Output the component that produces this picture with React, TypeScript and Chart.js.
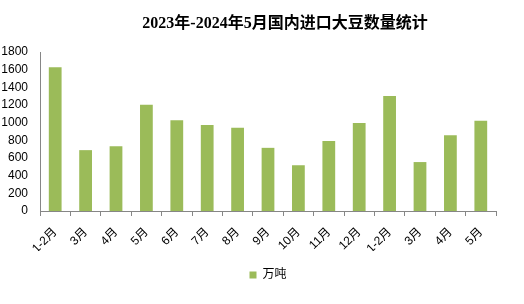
import React, { useEffect, useRef } from "react";
import { Chart, registerables } from "chart.js";

Chart.register(...registerables);

const TITLE = "2023年-2024年5月国内进口大豆数量统计";
const categories = ["1-2月", "3月", "4月", "5月", "6月", "7月", "8月", "9月", "10月", "11月", "12月", "1-2月", "3月", "4月", "5月"];
const seriesName = "万吨";
const values = [1627, 689, 734, 1202, 1027, 973, 943, 715, 518, 793, 995, 1303, 554, 857, 1022];
const yMin = 0;
const yMax = 1800;
const yStep = 200;

const FONT = '"Liberation Sans", Arial, "Noto Sans CJK SC", sans-serif';

const titlePlugin = {
  id: "customTitle",
  afterDraw(chart: any) {
    const ctx = chart.ctx;
    const area = chart.chartArea;
    ctx.save();
    ctx.font = 'bold 16px "Liberation Serif", "Noto Sans CJK SC", serif';
    ctx.fillStyle = "#000";
    ctx.textAlign = "center";
    ctx.textBaseline = "middle";
    ctx.fillText(TITLE, (area.left + area.right) / 2 + 17, 24);
    ctx.restore();
  },
};

export default function App() {
  const ref = useRef<HTMLCanvasElement | null>(null);
  useEffect(() => {
    document.body.style.margin = "0";
    const chart = new Chart(ref.current!, {
      type: "bar",
      data: {
        labels: categories,
        datasets: [
          {
            label: seriesName,
            data: values,
            backgroundColor: "#9BBB59",
            borderWidth: 0,
            barPercentage: 0.42,
            categoryPercentage: 1,
          },
        ],
      },
      options: {
        animation: false,
        responsive: false,
        maintainAspectRatio: false,
        layout: { padding: { top: 52, right: 28, left: 1, bottom: 13 } },
        plugins: {
          title: { display: false },
          tooltip: { enabled: false },
          legend: {
            display: true,
            position: "bottom",
            fullSize: false,
            labels: {
              boxWidth: 7,
              boxHeight: 7,
              color: "#000",
              font: { family: FONT, size: 12 },
              padding: 18,
            },
          },
        },
        scales: {
          x: {
            afterFit: (s: any) => {
              s.paddingLeft = 0;
              s.paddingRight = 0;
              s.height = 40;
            },
            grid: {
              display: true,
              drawOnChartArea: false,
              drawTicks: true,
              tickLength: 5,
              color: "#868686",
              offset: true,
            },
            border: { display: true, color: "#868686" },
            ticks: {
              color: "#000",
              font: { family: FONT, size: 12 },
              minRotation: 45,
              maxRotation: 45,
              autoSkip: false,
              padding: 9,
            },
          },
          y: {
            min: yMin,
            max: yMax,
            afterFit: (s: any) => {
              s.width = 39;
              s.paddingTop = 0;
              s.paddingBottom = 0;
            },
            grid: { display: false, drawTicks: false },
            border: { display: true, color: "#868686" },
            ticks: {
              stepSize: yStep,
              autoSkip: false,
              color: "#000",
              font: { family: FONT, size: 12 },
              padding: 12,
              callback: (v: any) => String(v),
            },
          },
        },
      },
      plugins: [titlePlugin],
    });
    return () => chart.destroy();
  }, []);
  return (
    <div style={{ width: 524, height: 304 }}>
      <canvas ref={ref} width={524} height={304} style={{ display: "block" }} />
    </div>
  );
}
